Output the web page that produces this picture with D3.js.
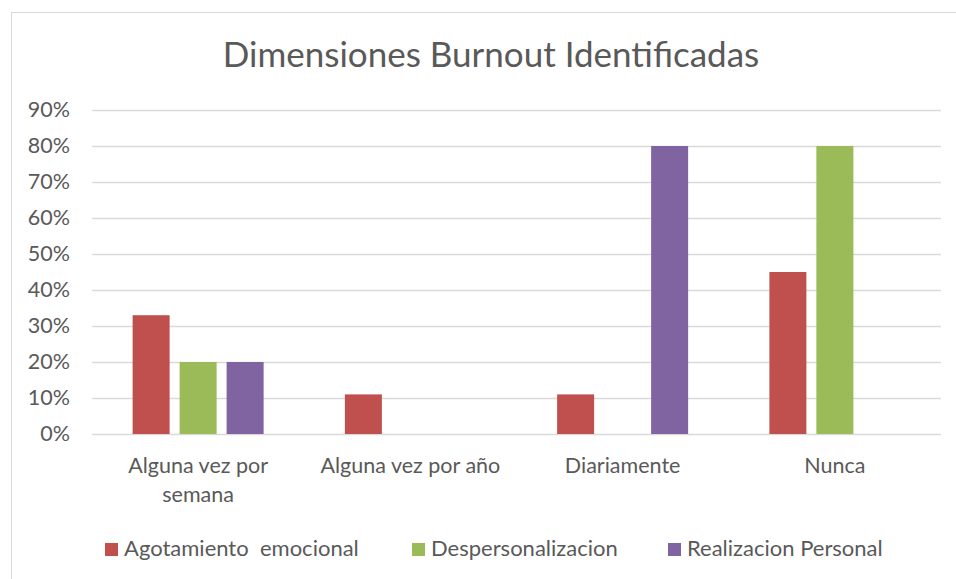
<!DOCTYPE html>
<html>
<head>
<meta charset="utf-8">
<script src="https://cdn.jsdelivr.net/npm/d3@7"></script>
<style>
  html, body { margin: 0; padding: 0; background: #fff; }
  svg { display: block; font-family: Lato, "Open Sans", sans-serif; }
</style>
</head>
<body>
<div id="chart"></div>
<script>
// Categories and series
const categories = ['Alguna vez por semana', 'Alguna vez por año', 'Diariamente', 'Nunca'];
const categoryLines = [['Alguna vez por', 'semana'], ['Alguna vez por año'], ['Diariamente'], ['Nunca']];
const seriesNames = ['Agotamiento  emocional', 'Despersonalizacion', 'Realizacion Personal'];
const seriesColors = ['#C0504D', '#9BBB59', '#8064A2'];
const agotamiento = [0.33, 0.11, 0.11, 0.45];
const despersonalizacion = [0.20, 0, 0, 0.80];
const realizacion = [0.20, 0, 0.80, 0];
const yTicks = [0, 0.1, 0.2, 0.3, 0.4, 0.5, 0.6, 0.7, 0.8, 0.9];

const seriesValues = [agotamiento, despersonalizacion, realizacion];

const width = 956, height = 579;
const margin = { top: 110, right: 15, bottom: 145, left: 92 };

const svg = d3.select('#chart')
    .append('svg')
    .attr('width', width)
    .attr('height', height);

// Chart frame (right/bottom edges fall outside the picture)
svg.append('rect')
    .attr('x', 11.5).attr('y', 12.5)
    .attr('width', 960).attr('height', 600)
    .attr('fill', '#fff')
    .attr('stroke', '#d9d9d9')
    .attr('stroke-width', 1);

const x = d3.scaleBand()
    .domain(categories)
    .range([margin.left, width - margin.right]);

const xInner = d3.scaleBand()
    .domain(seriesNames)
    .range([0, x.bandwidth()])
    .paddingInner(10 / 47)
    .paddingOuter((x.bandwidth() - 131) / 2 / 47);

const y = d3.scaleLinear()
    .domain([0, 0.9])
    .range([height - margin.bottom, margin.top]);

// Title
svg.append('text')
    .attr('x', 491)
    .attr('y', 67)
    .attr('text-anchor', 'middle')
    .attr('fill', '#595959')
    .style('font-size', '35px')
    .text('Dimensiones Burnout Identificadas');

// Gridlines + y labels
const yAxis = svg.append('g')
    .attr('transform', `translate(${margin.left},0)`)
    .call(d3.axisLeft(y)
        .tickValues(yTicks)
        .tickSize(-(width - margin.left - margin.right))
        .tickPadding(22)
        .tickFormat(d3.format('.0%')));
yAxis.select('.domain').remove();
yAxis.selectAll('.tick line')
    .attr('stroke', '#d9d9d9')
    .attr('stroke-width', 1.5);
yAxis.selectAll('.tick text')
    .attr('fill', '#595959')
    .style('font-size', '21.5px')
    .attr('font-family', 'Lato, "Open Sans", sans-serif');

// Bars
const groups = svg.append('g')
    .selectAll('g')
    .data(categories)
    .join('g')
    .attr('transform', d => `translate(${x(d)},0)`);

groups.selectAll('rect')
    .data((d, i) => seriesNames.map((s, j) => ({ s, v: seriesValues[j][i], c: seriesColors[j] })))
    .join('rect')
    .filter(d => d.v > 0)
    .attr('x', d => xInner(d.s))
    .attr('y', d => y(d.v))
    .attr('width', xInner.bandwidth())
    .attr('height', d => y(0) - y(d.v))
    .attr('fill', d => d.c);

// Category labels
const xLabels = svg.append('g');
categories.forEach((c, i) => {
    const t = xLabels.append('text')
        .attr('x', x(c) + x.bandwidth() / 2)
        .attr('y', 473)
        .attr('text-anchor', 'middle')
        .attr('fill', '#595959')
        .style('font-size', '21.5px');
    categoryLines[i].forEach((line, k) => {
        t.append('tspan')
            .attr('x', x(c) + x.bandwidth() / 2)
            .attr('dy', k === 0 ? 0 : 29)
            .text(line);
    });
});

// Legend
const legendX = [105, 412, 668];
const legend = svg.append('g');
seriesNames.forEach((s, i) => {
    legend.append('rect')
        .attr('x', legendX[i])
        .attr('y', 543)
        .attr('width', 13)
        .attr('height', 13)
        .attr('fill', seriesColors[i]);
    legend.append('text')
        .attr('x', legendX[i] + 19)
        .attr('y', 556)
        .attr('fill', '#595959')
        .style('font-size', '22px')
        .style('white-space', 'pre')
        .attr('xml:space', 'preserve')
        .text(s);
});
</script>
</body>
</html>
